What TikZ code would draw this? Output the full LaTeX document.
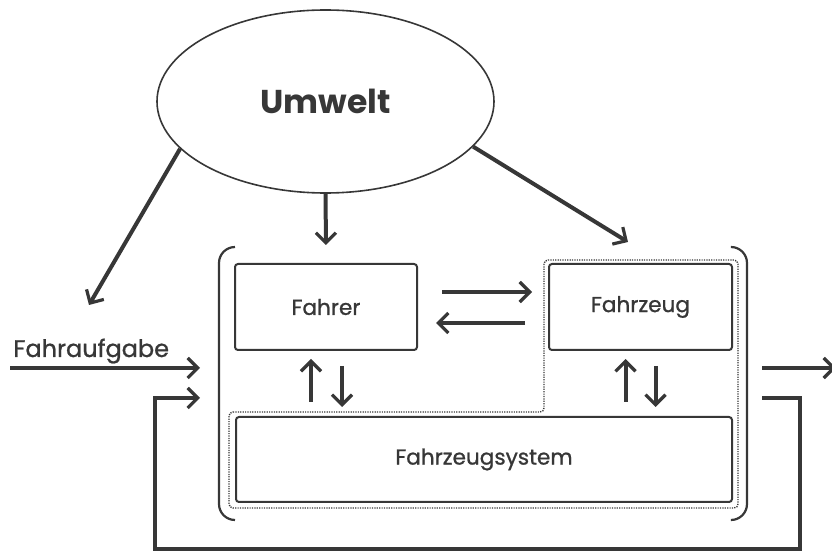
\documentclass[tikz,border=0pt]{standalone}
\usepackage{fontspec}
\setmainfont{Poppins}
\newfontfamily\medfont{Poppins}[FakeBold=1]
\usetikzlibrary{arrows.meta,shapes.geometric}

\definecolor{ink}{RGB}{55,55,55}

\begin{document}
\begin{tikzpicture}[x=0.5pt, y=-0.5pt, color=ink,
    box/.style={draw, line width=1pt, rounded corners=1.5pt, minimum height=43pt, font=\medfont\fontsize{10.8}{12}\selectfont},
    arr/.style={line width=2pt, -{Straight Barb[length=5pt, width=10pt, line width=1.6pt]}}]
  \useasboundingbox (0,0) rectangle (832,551);

  % Umwelt
  \node[ellipse, draw, line width=0.8pt, minimum width=168.5pt, minimum height=91.5pt,
        font=\fontsize{16.5}{20}\selectfont\bfseries] (umwelt) at (325.5,101.5) {Umwelt};

  % blocks
  \node[box, minimum width=91pt] (fahrer) at (326,307) {Fahrer};
  \node[box, minimum width=91.5pt] (fahrzeug) at (640.5,307) {Fahrzeug};
  \node[box, minimum width=248pt, minimum height=42.5pt] (system) at (484,459.5) {Fahrzeugsystem};

  % bracket and dotted outline
  \draw[line width=1.1pt, rounded corners=8pt] (235,247) -| (219,520) -- (235,520);
  \draw[line width=1.1pt, rounded corners=8pt] (732,247) -| (747,520) -- (732,520);
  \draw[line width=0.7pt, dash pattern=on 0.6pt off 0.6pt, rounded corners=2pt]
    (229,412) -- (544,412) -- (544,260) -- (738,260) -- (738,508) -- (229,508) -- cycle;

  % free ends
  \coordinate (envL) at (89,305);
  \coordinate (envM) at (326,245);
  \coordinate (envR) at (628,242);
  \coordinate (faStart) at (10,368);
  \coordinate (faEnd) at (200,368);
  \coordinate (outStart) at (762,368);
  \coordinate (outEnd) at (836,368);
  \coordinate (backStart) at (762,398);
  \coordinate (backEnd) at (200,398);

  \draw[arr] (umwelt.198) -- (envL);
  \draw[arr] (umwelt.south) -- (envM);
  \draw[arr] (umwelt.-17) -- (envR);

  \draw[arr, shorten <=12pt, shorten >=8pt] ([yshift=7.5pt]fahrer.east) -- ([yshift=7.5pt]fahrzeug.west);
  \draw[arr, shorten <=11.5pt, shorten >=9pt] ([yshift=-8pt]fahrzeug.west) -- ([yshift=-8pt]fahrer.east);

  \draw[arr, shorten <=7pt, shorten >=4pt] ([xshift=-7.5pt]fahrer.south |- system.north) -- ([xshift=-7.5pt]fahrer.south);
  \draw[arr, shorten <=7.5pt, shorten >=4.5pt] ([xshift=8pt]fahrer.south) -- ([xshift=8pt]fahrer.south |- system.north);
  \draw[arr, shorten <=7pt, shorten >=4pt] ([xshift=-7.5pt]fahrzeug.south |- system.north) -- ([xshift=-7.5pt]fahrzeug.south);
  \draw[arr, shorten <=7.5pt, shorten >=4.5pt] ([xshift=7.5pt]fahrzeug.south) -- ([xshift=7.5pt]fahrzeug.south |- system.north);

  % Fahraufgabe, output and feedback
  \node[anchor=base west, inner sep=0pt, font=\medfont\fontsize{12}{14}\selectfont] (aufgabe) at (13,357) {Fahraufgabe};
  \draw[arr] (faStart) -- (faEnd);
  \draw[arr] (outStart) -- (outEnd);
  \draw[arr] (backStart) -- (800,398) -- (800,549) -- (155,549) -- (155,398) -- (backEnd);
\end{tikzpicture}
\end{document}
